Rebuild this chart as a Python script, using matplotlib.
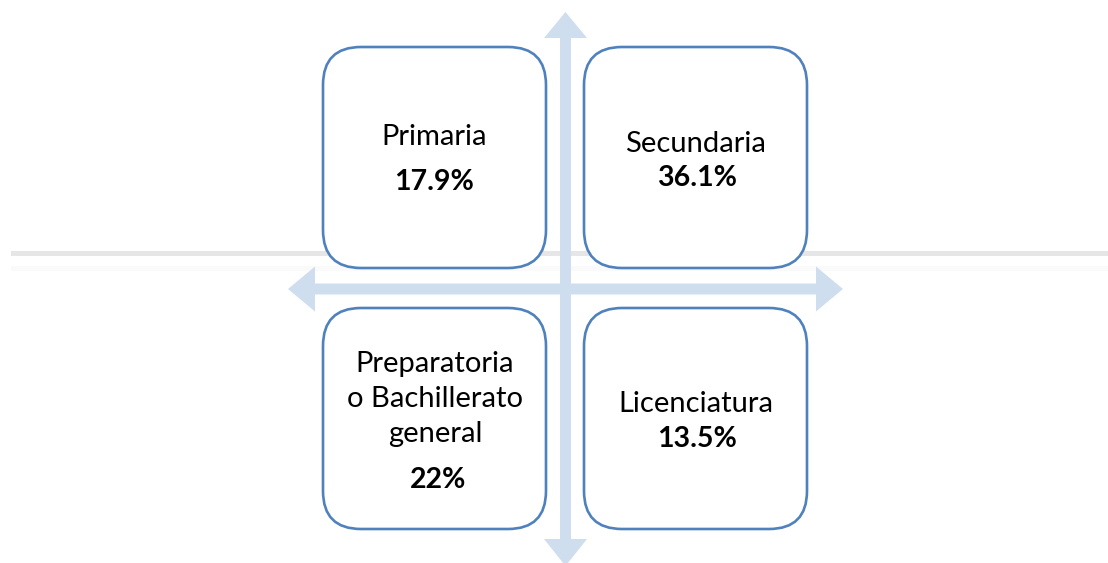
"""
Nivel educativo: diagrama de cuatro cuadrantes
"""
import matplotlib.pyplot as plt
from matplotlib.patches import FancyBboxPatch, Polygon

# Data
niveles = ['Primaria', 'Secundaria', 'Preparatoria\no Bachillerato\ngeneral', 'Licenciatura']
porcentajes = [17.9, 36.1, 22, 13.5]
etiquetas = ['17.9%', '36.1%', '22%', '13.5%']

W, H = 1108, 563
fig = plt.figure(figsize=(W / 100, H / 100), dpi=100)
ax = fig.add_axes([0, 0, 1, 1])
ax.set_xlim(0, W)
ax.set_ylim(H, 0)
ax.axis('off')

plt.rcParams['font.family'] = ['Lato', 'DejaVu Sans']

arrow_color = '#cfdeee'
edge_color = '#4f81bd'

# grey rule behind the diagram
ax.fill_between([11, W], 251, 256, color='#e6e6e6', lw=0, zorder=1)
ax.fill_between([11, W], 266, 271, color='#fafafa', lw=0, zorder=1)

# cross arrow (vertical + horizontal)
cx, cy = 565.5, 289
sw = 5.5
vert = [(cx - sw, 38), (cx - 21.5, 38), (cx, 12), (cx + 21.5, 38), (cx + sw, 38),
        (cx + sw, 539), (cx + 21.5, 539), (cx, 566), (cx - 21.5, 539), (cx - sw, 539)]
horiz = [(315, cy - sw), (315, cy - 22.5), (288, cy), (315, cy + 22.5), (315, cy + sw),
         (816, cy + sw), (816, cy + 22.5), (843, cy), (816, cy - 22.5), (816, cy - sw)]
ax.add_patch(Polygon(vert, closed=True, fc=arrow_color, ec='none', zorder=2))
ax.add_patch(Polygon(horiz, closed=True, fc=arrow_color, ec='none', zorder=2))

# boxes: (x0, y0) top-left corner
boxes = [(323, 47), (584, 47), (323, 308), (584, 308)]
bw, bh = 223, 221
for (x0, y0) in boxes:
    box = FancyBboxPatch((x0, y0), bw, bh, boxstyle='round,pad=0,rounding_size=38',
                         fc='white', ec=edge_color, lw=1.9, zorder=3)
    ax.add_patch(box)

# text baselines (pixels)
name_pos = [(434, [145]), (695, [152]), (435, [372, 407, 442]), (696, [412])]
pct_pos = [(434, 190), (697, 186), (438, 488), (697, 447)]

for nombre, (x, ys), pct, (px, py) in zip(niveles, name_pos, etiquetas, pct_pos):
    for line, y in zip(nombre.split('\n'), ys):
        ax.text(x, y, line, ha='center', va='baseline', fontsize=21,
                color='black', zorder=4)
    ax.text(px, py, pct, ha='center', va='baseline', fontsize=20.5,
            fontweight='bold', color='black', zorder=4)

plt.savefig('out.png', dpi=100)
